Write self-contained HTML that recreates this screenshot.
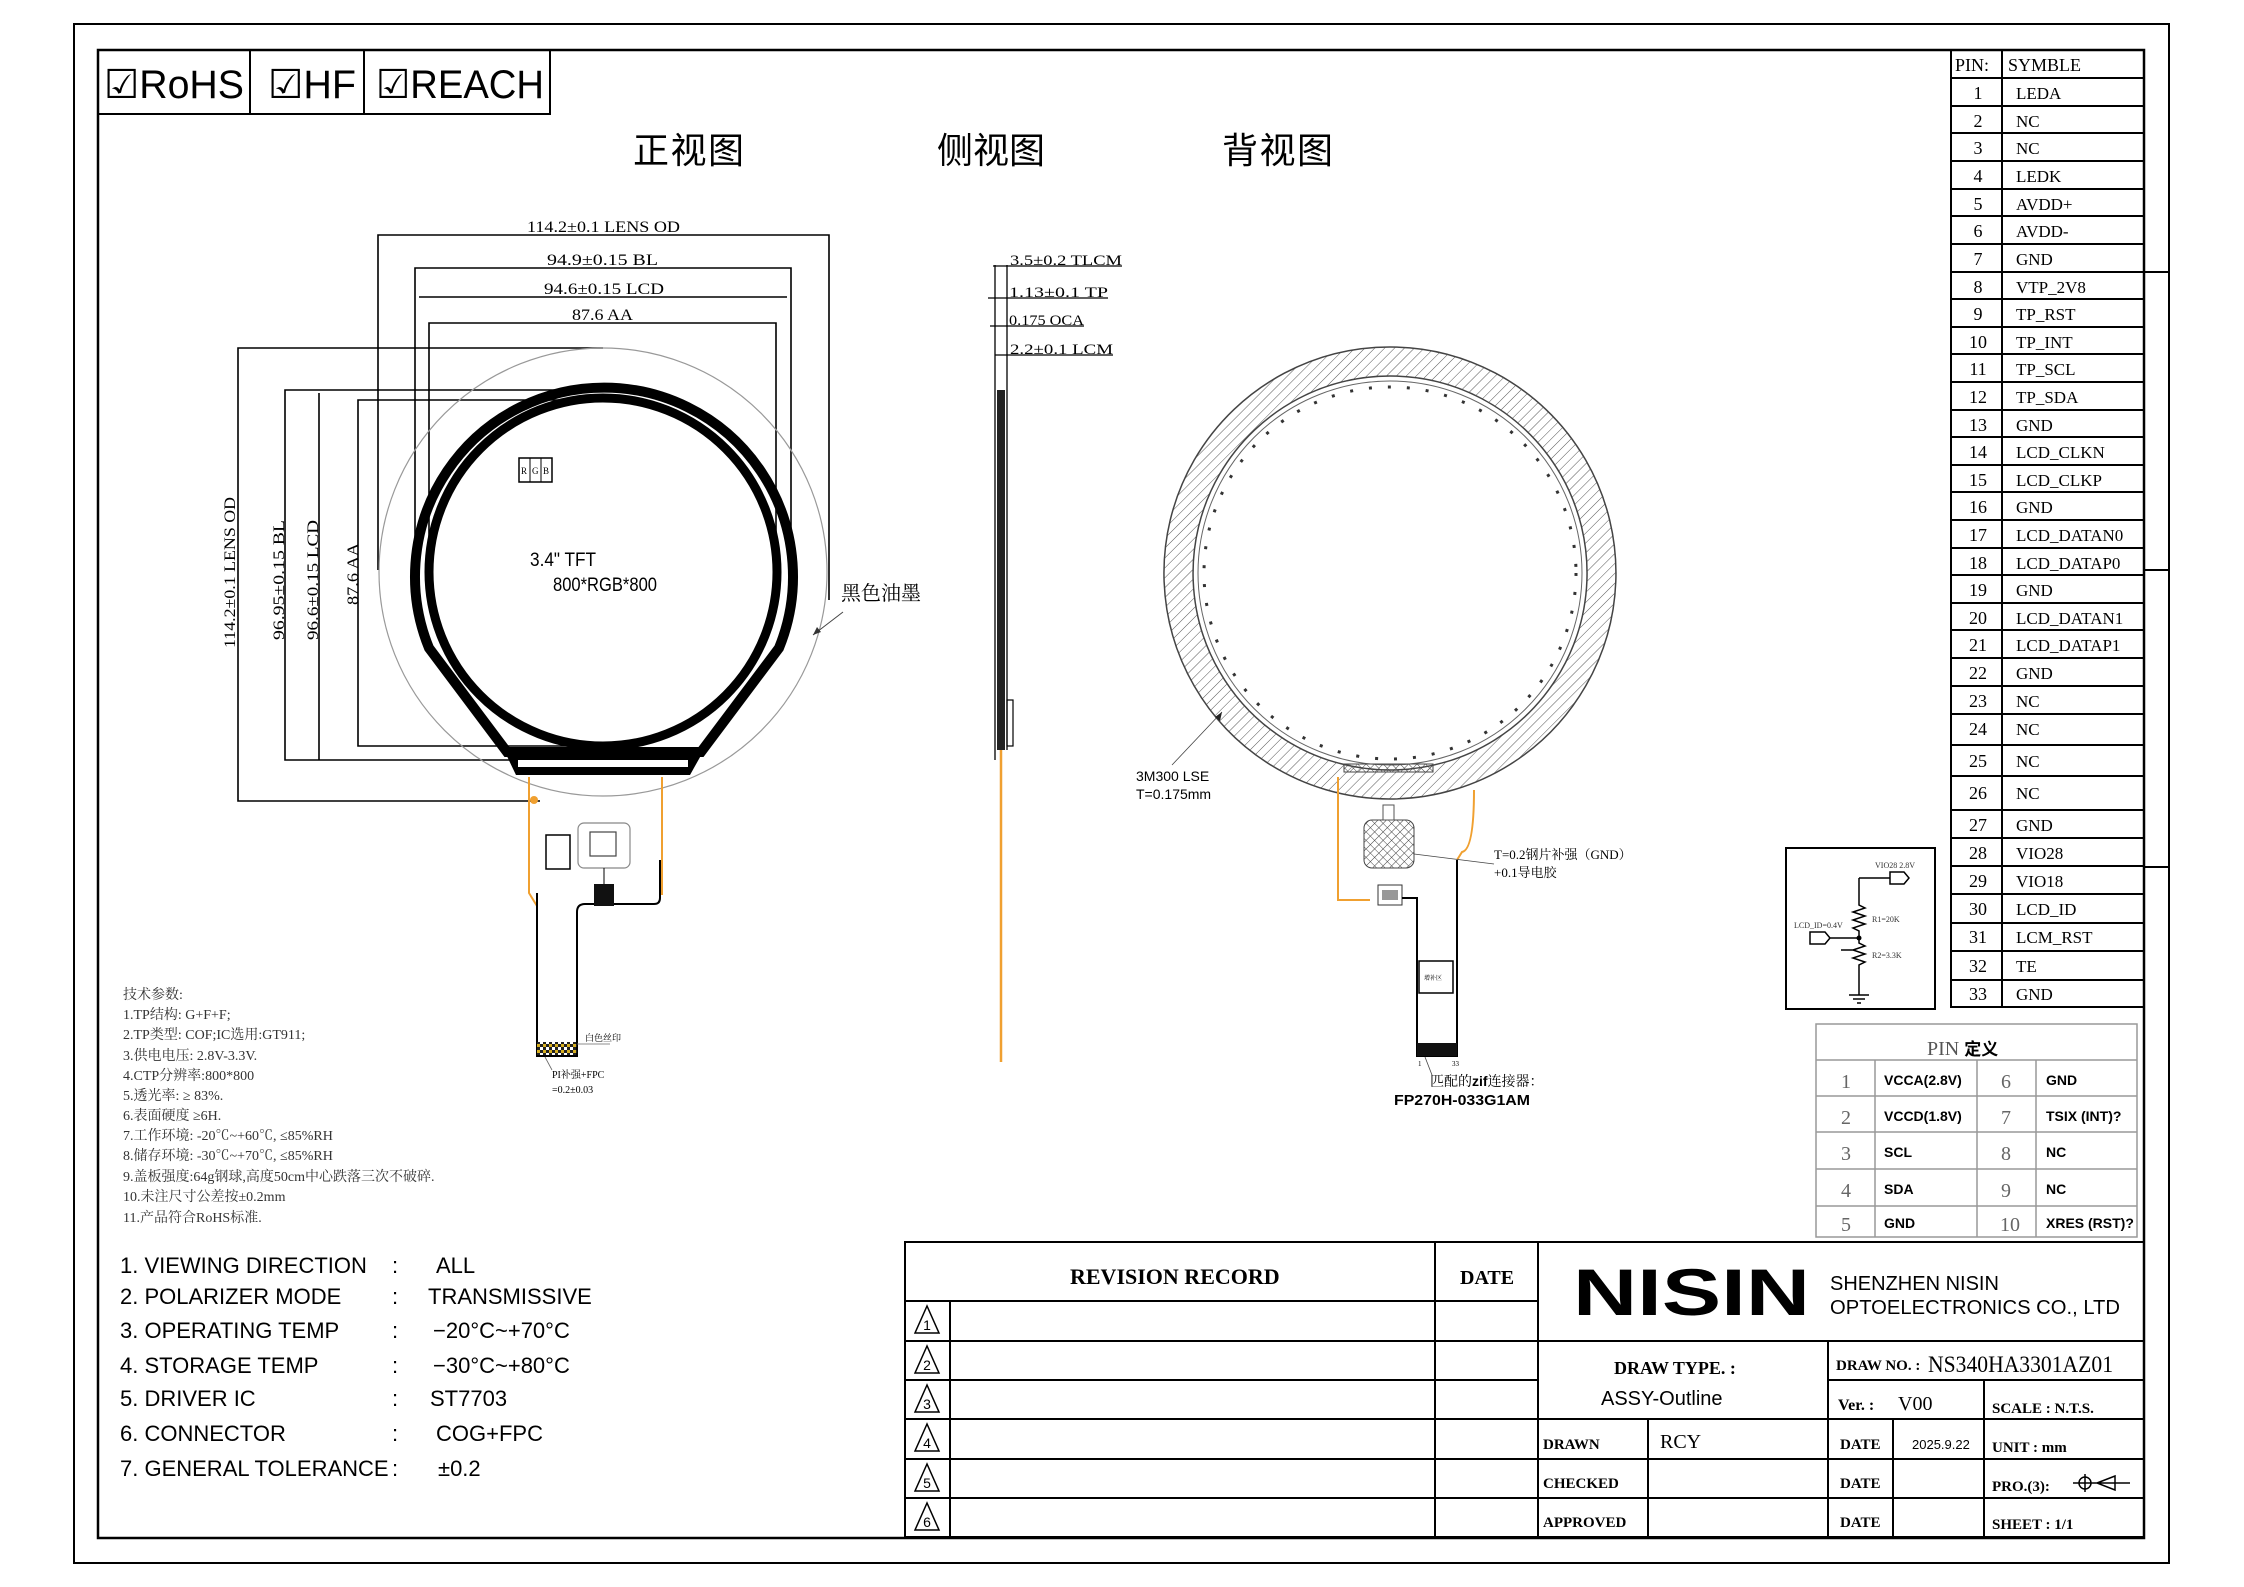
<!DOCTYPE html>
<html><head><meta charset="utf-8"><style>
html,body{margin:0;padding:0;background:#fff}
svg{display:block}
.s{font-family:"Liberation Serif","Noto Serif CJK SC",serif}
.a{font-family:"Liberation Sans","Noto Sans CJK SC",sans-serif}
</style></head><body>
<svg width="2244" height="1587" viewBox="0 0 2244 1587" xmlns="http://www.w3.org/2000/svg">
<defs>
<pattern id="h" width="7" height="7" patternUnits="userSpaceOnUse" patternTransform="rotate(45)"><line x1="0" y1="0" x2="0" y2="7" stroke="#555" stroke-width="1"/></pattern>
<pattern id="x" width="6" height="6" patternUnits="userSpaceOnUse" patternTransform="rotate(45)"><path d="M0 0V6M0 0H6" stroke="#444" stroke-width="1"/></pattern>
<pattern id="c" width="6" height="6" patternUnits="userSpaceOnUse"><rect width="3" height="3" fill="#222"/><rect x="3" y="3" width="3" height="3" fill="#222"/><rect x="3" width="3" height="3" fill="#d8b020"/></pattern>
</defs>
<g fill="none" stroke="#000">
<rect x="74" y="24" width="2095" height="1539" stroke-width="2"/>
<rect x="98" y="50" width="2046" height="1488" stroke-width="2.5"/>
<line x1="2144" y1="272" x2="2169" y2="272" stroke-width="2"/>
<line x1="2144" y1="570" x2="2169" y2="570" stroke-width="2"/>
<line x1="2144" y1="867" x2="2169" y2="867" stroke-width="2"/>
<rect x="98" y="50" width="452" height="64" stroke-width="2"/>
<line x1="250" y1="50" x2="250" y2="114" stroke-width="2"/>
<line x1="364" y1="50" x2="364" y2="114" stroke-width="2"/>
</g>
<g class="a" font-size="40">
<text x="104" y="98" textLength="140" lengthAdjust="spacingAndGlyphs">☑RoHS</text>
<text x="268" y="98" textLength="88" lengthAdjust="spacingAndGlyphs">☑HF</text>
<text x="376" y="98" textLength="168" lengthAdjust="spacingAndGlyphs">☑REACH</text>
</g>
<g class="a" font-size="36">
<text x="633" y="163" textLength="111">正视图</text>
<text x="937" y="163" textLength="108">侧视图</text>
<text x="1222" y="163" textLength="111">背视图</text>
</g>

<!-- front view dimension lines -->
<g stroke="#000" stroke-width="1.6" fill="none">
<polyline points="378,570 378,235 829,235 829,600"/>
<polyline points="415,546 415,268 791,268 791,546"/>
<line x1="419" y1="297" x2="787" y2="297"/>
<polyline points="429,546 429,323 776,323 776,546"/>
<polyline points="603,348 238,348 238,801 540,801"/>
<polyline points="560,390 285,390 285,760 510,760"/>
<line x1="319" y1="393" x2="319" y2="760"/>
<polyline points="600,400 358,400 358,746 600,746"/>
</g>
<g class="s" font-size="16">
<text x="527" y="232" textLength="153" lengthAdjust="spacingAndGlyphs">114.2±0.1 LENS OD</text>
<text x="547" y="265" textLength="111" lengthAdjust="spacingAndGlyphs">94.9±0.15 BL</text>
<text x="544" y="294" textLength="120" lengthAdjust="spacingAndGlyphs">94.6±0.15 LCD</text>
<text x="572" y="320" textLength="61" lengthAdjust="spacingAndGlyphs">87.6 AA</text>
<text transform="translate(235,648) rotate(-90)" textLength="151" lengthAdjust="spacingAndGlyphs">114.2±0.1 LENS OD</text>
<text transform="translate(284,640) rotate(-90)" textLength="120" lengthAdjust="spacingAndGlyphs">96.95±0.15 BL</text>
<text transform="translate(318,640) rotate(-90)" textLength="120" lengthAdjust="spacingAndGlyphs">96.6±0.15 LCD</text>
<text transform="translate(358,605) rotate(-90)" textLength="62" lengthAdjust="spacingAndGlyphs">87.6 AA</text>
</g>
<!-- front view body -->
<circle cx="603" cy="572" r="224" fill="none" stroke="#999" stroke-width="1.2"/>
<path d="M429,648 A189,189 0 1,1 779,648 L701,752 L507,752 Z" fill="none" stroke="#000" stroke-width="10"/>
<circle cx="603" cy="572" r="174" fill="none" stroke="#000" stroke-width="9"/>
<path d="M504,750 L704,750 L690,775 L516,775 Z" fill="#000"/>
<rect x="518" y="760" width="170" height="7" fill="#fff"/>
<rect x="519" y="458" width="33" height="24" fill="none" stroke="#000" stroke-width="1.5"/>
<line x1="530" y1="458" x2="530" y2="482" stroke="#000"/><line x1="541" y1="458" x2="541" y2="482" stroke="#000"/>
<text class="s" font-size="9" x="521" y="474">R</text><text class="s" font-size="9" x="532" y="474">G</text><text class="s" font-size="9" x="543" y="474">B</text>
<text class="a" font-size="19" x="530" y="566" textLength="66" lengthAdjust="spacingAndGlyphs">3.4" TFT</text>
<text class="a" font-size="19" x="553" y="591" textLength="104" lengthAdjust="spacingAndGlyphs">800*RGB*800</text>
<text class="s" font-size="20" x="841" y="600">黑色油墨</text>
<line x1="843" y1="612" x2="813" y2="635" stroke="#444" stroke-width="1"/>
<path d="M813,635 l4,-8 l4,5 z" fill="#333"/>
<!-- front FPC -->
<path d="M529,777 L529,893 L537,906 M662,777 L662,895" fill="none" stroke="#f0a030" stroke-width="2"/>
<path d="M537,893 L537,1056 L577,1056 L577,912 Q577,904 585,904 L654,904 Q660,904 660,898 L660,860" fill="none" stroke="#000" stroke-width="2"/>
<rect x="578" y="823" width="52" height="45" rx="6" fill="none" stroke="#888" stroke-width="1.2"/>
<rect x="590" y="832" width="26" height="24" fill="none" stroke="#444" stroke-width="1.2"/>
<rect x="546" y="835" width="24" height="34" fill="none" stroke="#000" stroke-width="1.5"/>
<rect x="594" y="884" width="20" height="22" fill="#111"/>
<line x1="604" y1="868" x2="604" y2="884" stroke="#000"/>
<rect x="537" y="1042" width="40" height="13" fill="url(#c)"/>
<circle cx="534" cy="800" r="4" fill="#f0a030"/>
<text class="s" font-size="9" x="585" y="1041">白色丝印</text>
<line x1="577" y1="1044" x2="610" y2="1044" stroke="#666" stroke-width="0.8"/>
<text class="s" font-size="10" x="552" y="1078">PI补强+FPC</text>
<text class="s" font-size="10" x="552" y="1093">=0.2±0.03</text>
<line x1="545" y1="1057" x2="552" y2="1070" stroke="#666" stroke-width="0.8"/>

<!-- side view -->
<line x1="995" y1="265" x2="995" y2="760" stroke="#000" stroke-width="1.3"/>
<rect x="997" y="390" width="8" height="360" fill="#222"/>
<line x1="1007" y1="265" x2="1007" y2="750" stroke="#000" stroke-width="1.3"/>
<rect x="1007" y="700" width="6" height="46" fill="none" stroke="#000" stroke-width="1.2"/>
<line x1="1001" y1="750" x2="1001" y2="1062" stroke="#f0a030" stroke-width="2.5"/>
<g class="s" font-size="15">
<text x="1010" y="265" textLength="112" lengthAdjust="spacingAndGlyphs">3.5±0.2 TLCM</text>
<text x="1009" y="297" textLength="99" lengthAdjust="spacingAndGlyphs">1.13±0.1 TP</text>
<text x="1009" y="325" textLength="75" lengthAdjust="spacingAndGlyphs">0.175 OCA</text>
<text x="1010" y="354" textLength="103" lengthAdjust="spacingAndGlyphs">2.2±0.1 LCM</text>
</g>
<g stroke="#000" stroke-width="1.3">
<line x1="993" y1="266" x2="1122" y2="266"/>
<line x1="988" y1="298" x2="1108" y2="298"/>
<line x1="990" y1="326" x2="1084" y2="326"/>
<line x1="995" y1="355" x2="1113" y2="355"/>
</g>

<!-- back view -->
<path d="M1390,347 A226,226 0 1,1 1389.9,347 Z M1390,376 A197,197 0 1,0 1390.1,376 Z" fill="url(#h)" fill-rule="evenodd" stroke="#444" stroke-width="1.5"/>
<circle cx="1390" cy="573" r="192" fill="none" stroke="#666" stroke-width="1"/>
<circle cx="1390" cy="573" r="186" fill="none" stroke="#333" stroke-width="3" stroke-dasharray="3 16"/>
<rect x="1344" y="764" width="89" height="8" fill="url(#x)" stroke="#444"/>
<path d="M1338,777 L1338,900 L1370,900 M1474,790 Q1474,850 1462,852 L1457,860" fill="none" stroke="#f0a030" stroke-width="2"/>
<rect x="1364" y="820" width="50" height="48" rx="8" fill="url(#x)" stroke="#444"/>
<rect x="1383" y="805" width="11" height="15" fill="none" stroke="#555"/>
<rect x="1378" y="885" width="24" height="20" fill="none" stroke="#333"/>
<rect x="1382" y="890" width="16" height="10" fill="#999"/>
<path d="M1402,898 L1417,898 L1417,1056 L1457,1056 L1457,860" fill="none" stroke="#000" stroke-width="2"/>
<rect x="1417" y="1043" width="40" height="13" fill="#111"/>
<rect x="1419" y="961" width="34" height="32" fill="none" stroke="#000" stroke-width="1.5"/>
<text class="s" font-size="6" x="1424" y="980">增补区</text>
<text class="s" font-size="7" x="1418" y="1066">1</text><text class="s" font-size="7" x="1452" y="1066">33</text>
<line x1="1425" y1="1057" x2="1432" y2="1075" stroke="#444" stroke-width="0.8"/>
<text class="s" font-size="14" x="1430" y="1086">匹配的<tspan class="a" font-weight="bold">zif</tspan>连接器：</text>
<text class="a" font-size="15" font-weight="bold" x="1394" y="1105" textLength="136" lengthAdjust="spacingAndGlyphs">FP270H-033G1AM</text>
<text class="s" font-size="13" x="1494" y="859">T=0.2钢片补强（GND）</text>
<text class="s" font-size="13" x="1494" y="877">+0.1导电胶</text>
<line x1="1414" y1="854" x2="1494" y2="864" stroke="#444" stroke-width="0.8"/>
<text class="a" font-size="14" x="1136" y="781">3M300 LSE</text>
<text class="a" font-size="14" x="1136" y="799">T=0.175mm</text>
<line x1="1172" y1="765" x2="1222" y2="712" stroke="#444" stroke-width="0.8"/>
<path d="M1222,712 l-2,9 l-5,-4 z" fill="#222"/>

<!-- schematic -->
<rect x="1786" y="848" width="149" height="161" fill="none" stroke="#000" stroke-width="2"/>
<path d="M1859,878 L1859,905 l6,3 l-12,4 l12,4 l-12,4 l12,4 l-12,4 l6,3 L1859,943 l6,3 l-12,4 l-12,0 M1859,943 l6,3 l-12,4 l12,4 l-12,4 l12,4 l-6,3 L1859,995 M1849,995 h20 M1853,999 h12 M1857,1003 h4 M1859,878 L1890,878" fill="none" stroke="#000" stroke-width="1.5"/>
<path d="M1890,872 h14 l5,6 l-5,6 h-14 z M1810,932 h15 l5,6 l-5,6 h-15 z M1830,938 h29" fill="none" stroke="#000" stroke-width="1.5"/>
<circle cx="1859" cy="938" r="2.5" fill="#000"/>
<g class="s" font-size="8" fill="#333">
<text x="1875" y="868">VIO28 2.8V</text><text x="1794" y="928">LCD_ID=0.4V</text>
<text x="1872" y="922">R1=20K</text><text x="1872" y="958">R2=3.3K</text></g>

<!-- pin table -->
<g fill="none" stroke="#000" stroke-width="2">
<rect x="1951" y="50" width="193" height="957"/>
<line x1="2002" y1="50" x2="2002" y2="1007"/>
<path d="M1951,78H2144M1951,106H2144M1951,133H2144M1951,161H2144M1951,189H2144M1951,216H2144M1951,244H2144M1951,272H2144M1951,299H2144M1951,327H2144M1951,354H2144M1951,382H2144M1951,410H2144M1951,437H2144M1951,465H2144M1951,492H2144M1951,520H2144M1951,548H2144M1951,575H2144M1951,603H2144M1951,630H2144M1951,658H2144M1951,686H2144M1951,714H2144M1951,745H2144M1951,776H2144M1951,810H2144M1951,838H2144M1951,866H2144M1951,894H2144M1951,923H2144M1951,951H2144M1951,980H2144"/>
</g>
<g class="s" font-size="18">
<text x="1955" y="71">PIN:</text><text x="2008" y="71">SYMBLE</text>
<g text-anchor="middle">
<text x="1978" y="99">1</text><text x="1978" y="127">2</text><text x="1978" y="154">3</text><text x="1978" y="182">4</text><text x="1978" y="210">5</text><text x="1978" y="237">6</text><text x="1978" y="265">7</text><text x="1978" y="293">8</text><text x="1978" y="320">9</text><text x="1978" y="348">10</text><text x="1978" y="375">11</text><text x="1978" y="403">12</text><text x="1978" y="431">13</text><text x="1978" y="458">14</text><text x="1978" y="486">15</text><text x="1978" y="513">16</text><text x="1978" y="541">17</text><text x="1978" y="569">18</text><text x="1978" y="596">19</text><text x="1978" y="624">20</text><text x="1978" y="651">21</text><text x="1978" y="679">22</text><text x="1978" y="707">23</text><text x="1978" y="735">24</text><text x="1978" y="767">25</text><text x="1978" y="799">26</text><text x="1978" y="831">27</text><text x="1978" y="859">28</text><text x="1978" y="887">29</text><text x="1978" y="915">30</text><text x="1978" y="943">31</text><text x="1978" y="972">32</text><text x="1978" y="1000">33</text>
</g>
<g font-size="17">
<text x="2016" y="99">LEDA</text><text x="2016" y="127">NC</text><text x="2016" y="154">NC</text><text x="2016" y="182">LEDK</text><text x="2016" y="210">AVDD+</text><text x="2016" y="237">AVDD-</text><text x="2016" y="265">GND</text><text x="2016" y="293">VTP_2V8</text><text x="2016" y="320">TP_RST</text><text x="2016" y="348">TP_INT</text><text x="2016" y="375">TP_SCL</text><text x="2016" y="403">TP_SDA</text><text x="2016" y="431">GND</text><text x="2016" y="458">LCD_CLKN</text><text x="2016" y="486">LCD_CLKP</text><text x="2016" y="513">GND</text><text x="2016" y="541">LCD_DATAN0</text><text x="2016" y="569">LCD_DATAP0</text><text x="2016" y="596">GND</text><text x="2016" y="624">LCD_DATAN1</text><text x="2016" y="651">LCD_DATAP1</text><text x="2016" y="679">GND</text><text x="2016" y="707">NC</text><text x="2016" y="735">NC</text><text x="2016" y="767">NC</text><text x="2016" y="799">NC</text><text x="2016" y="831">GND</text><text x="2016" y="859">VIO28</text><text x="2016" y="887">VIO18</text><text x="2016" y="915">LCD_ID</text><text x="2016" y="943">LCM_RST</text><text x="2016" y="972">TE</text><text x="2016" y="1000">GND</text>
</g></g>

<!-- PIN definition table -->
<g fill="none" stroke="#999" stroke-width="1.5">
<rect x="1816" y="1024" width="321" height="213"/>
<path d="M1816,1060H2137M1816,1096H2137M1816,1132H2137M1816,1169H2137M1816,1206H2137M1875,1060V1237M1977,1060V1237M2036,1060V1237"/>
</g>
<text class="s" font-size="20" x="1927" y="1055" fill="#555">PIN <tspan class="a" font-weight="bold" fill="#000" font-size="17">定义</tspan></text>
<g class="s" font-size="20" fill="#666" text-anchor="middle">
<text x="1846" y="1088">1</text><text x="1846" y="1124">2</text><text x="1846" y="1160">3</text><text x="1846" y="1197">4</text><text x="1846" y="1231">5</text>
<text x="2006" y="1088">6</text><text x="2006" y="1124">7</text><text x="2006" y="1160">8</text><text x="2006" y="1197">9</text><text x="2010" y="1231">10</text>
</g>
<g class="a" font-size="14" font-weight="bold">
<text x="1884" y="1085">VCCA(2.8V)</text><text x="1884" y="1121">VCCD(1.8V)</text><text x="1884" y="1157">SCL</text><text x="1884" y="1194">SDA</text><text x="1884" y="1228">GND</text>
<text x="2046" y="1085">GND</text><text x="2046" y="1121">TSIX (INT)?</text><text x="2046" y="1157">NC</text><text x="2046" y="1194">NC</text><text x="2046" y="1228">XRES (RST)?</text>
</g>

<!-- tech notes -->
<g class="s" font-size="14" fill="#333">
<text x="123" y="999">技术参数:</text>
<text x="123" y="1019">1.TP结构: G+F+F;</text>
<text x="123" y="1039">2.TP类型: COF;IC选用:GT911;</text>
<text x="123" y="1060">3.供电电压: 2.8V-3.3V.</text>
<text x="123" y="1080">4.CTP分辨率:800*800</text>
<text x="123" y="1100">5.透光率: ≥ 83%.</text>
<text x="123" y="1120">6.表面硬度 ≥6H.</text>
<text x="123" y="1140">7.工作环境: -20℃~+60℃, ≤85%RH</text>
<text x="123" y="1160">8.储存环境: -30℃~+70℃, ≤85%RH</text>
<text x="123" y="1181">9.盖板强度:64g钢球,高度50cm中心跌落三次不破碎.</text>
<text x="123" y="1201">10.未注尺寸公差按±0.2mm</text>
<text x="123" y="1222">11.产品符合RoHS标准.</text>
</g>
<!-- specs -->
<g class="a" font-size="22">
<text x="120" y="1273">1.  VIEWING    DIRECTION</text><text x="392" y="1273">:</text><text x="436" y="1273">ALL</text>
<text x="120" y="1304">2.  POLARIZER  MODE</text><text x="392" y="1304">:</text><text x="428" y="1304">TRANSMISSIVE</text>
<text x="120" y="1338">3.  OPERATING  TEMP</text><text x="392" y="1338">:</text><text x="433" y="1338">−20°C~+70°C</text>
<text x="120" y="1373">4.  STORAGE  TEMP</text><text x="392" y="1373">:</text><text x="433" y="1373">−30°C~+80°C</text>
<text x="120" y="1406">5.  DRIVER  IC</text><text x="392" y="1406">:</text><text x="430" y="1406">ST7703</text>
<text x="120" y="1441">6.  CONNECTOR</text><text x="392" y="1441">:</text><text x="436" y="1441">COG+FPC</text>
<text x="120" y="1476">7.  GENERAL  TOLERANCE</text><text x="392" y="1476">:</text><text x="438" y="1476">±0.2</text>
</g>

<!-- title block -->
<g fill="none" stroke="#000" stroke-width="2">
<rect x="905" y="1242" width="1239" height="295"/>
<path d="M905,1301H1538M905,1341H2144M905,1380H1538M905,1419H2144M905,1459H2144M905,1498H2144M950,1301V1537M1435,1242V1537M1538,1242V1537M1828,1341V1537M1828,1380H2144M1984,1380V1537M1648,1419V1537M1893,1419V1537"/>
</g>
<g fill="none" stroke="#000" stroke-width="1.5">
<path d="M927,1306 l-12,27 h24 z M927,1346 l-12,27 h24 z M927,1385 l-12,27 h24 z M927,1424 l-12,27 h24 z M927,1464 l-12,27 h24 z M927,1503 l-12,27 h24 z"/>
</g>
<g class="a" font-size="14" text-anchor="middle">
<text x="927" y="1330">1</text><text x="927" y="1370">2</text><text x="927" y="1409">3</text><text x="927" y="1448">4</text><text x="927" y="1488">5</text><text x="927" y="1527">6</text>
</g>
<text class="s" font-size="22" font-weight="bold" x="1070" y="1284">REVISION  RECORD</text>
<text class="s" font-size="20" font-weight="bold" x="1460" y="1284">DATE</text>
<text class="a" font-size="66" font-weight="bold" x="1573" y="1315" textLength="237" lengthAdjust="spacingAndGlyphs">NISIN</text>
<text class="a" font-size="20" x="1830" y="1290">SHENZHEN NISIN</text>
<text class="a" font-size="20" x="1830" y="1314" textLength="290" lengthAdjust="spacingAndGlyphs">OPTOELECTRONICS CO., LTD</text>
<text class="s" font-size="18" font-weight="bold" x="1614" y="1374">DRAW  TYPE. :</text>
<text class="a" font-size="20" x="1601" y="1405">ASSY-Outline</text>
<text class="s" font-size="15" font-weight="bold" x="1836" y="1370">DRAW NO. :</text>
<text class="s" font-size="23" x="1928" y="1372" textLength="185" lengthAdjust="spacingAndGlyphs">NS340HA3301AZ01</text>
<text class="s" font-size="16" font-weight="bold" x="1838" y="1410">Ver. :</text>
<text class="s" font-size="20" x="1898" y="1410">V00</text>
<text class="s" font-size="15" font-weight="bold" x="1992" y="1413">SCALE : N.T.S.</text>
<g class="s" font-size="15" font-weight="bold">
<text x="1543" y="1449">DRAWN</text><text x="1543" y="1488">CHECKED</text><text x="1543" y="1527">APPROVED</text>
<text x="1840" y="1449">DATE</text><text x="1840" y="1488">DATE</text><text x="1840" y="1527">DATE</text>
<text x="1992" y="1452">UNIT : mm</text><text x="1992" y="1491">PRO.(3):</text><text x="1992" y="1529">SHEET :   1/1</text>
</g>
<text class="s" font-size="20" x="1660" y="1448">RCY</text>
<text class="a" font-size="13" x="1912" y="1449">2025.9.22</text>
<g stroke="#000" stroke-width="1.5" fill="none">
<circle cx="2085" cy="1483" r="6"/><path d="M2073,1483H2130M2085,1474V1492M2097,1483L2115,1476V1490Z"/>
</g>
</svg>
</body></html>
